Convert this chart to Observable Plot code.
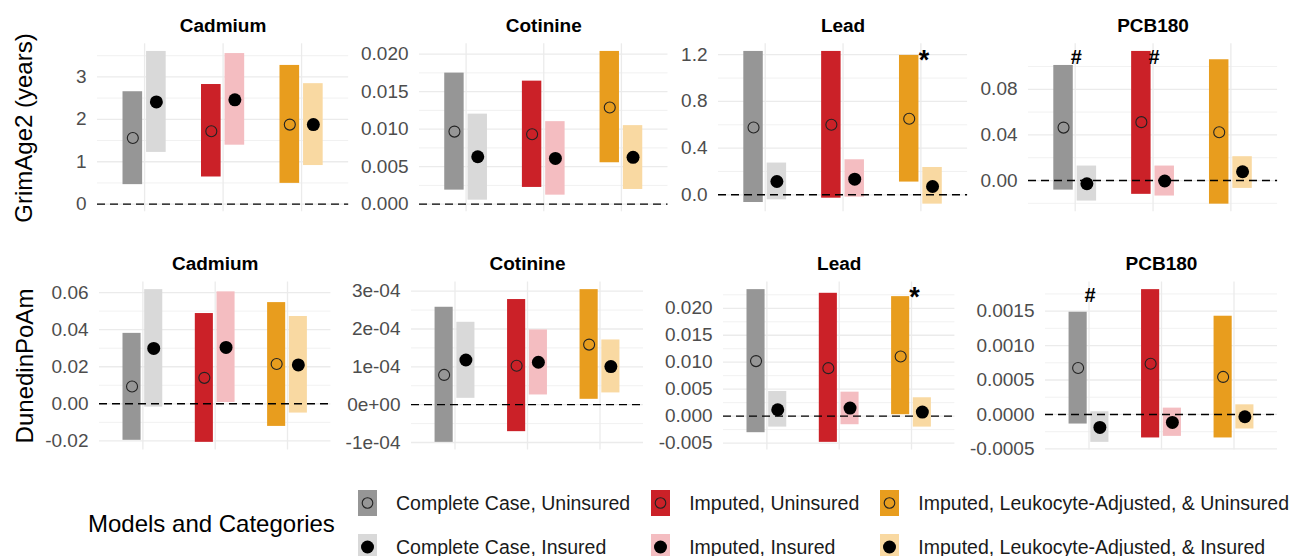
<!DOCTYPE html>
<html>
<head>
<meta charset="utf-8">
<script src="https://cdn.jsdelivr.net/npm/d3@7"></script>
<script src="https://cdn.jsdelivr.net/npm/@observablehq/plot@0.6"></script>
<style>
  body { margin: 0; background: #fff; font-family: "Liberation Sans", Arial, Helvetica, sans-serif; }
  #chart { position: relative; width: 1289px; height: 556px; overflow: hidden; background: #fff; }
  .panel { position: absolute; }
  .panel svg { overflow: visible; }
  .ytitle { position: absolute; font-size: 24px; color: #000; white-space: nowrap;
            transform: translate(-50%, -50%) rotate(-90deg); }
  .legtitle { position: absolute; font-size: 24px; color: #000; white-space: nowrap; transform: translateY(-50%); }
  .legend { position: absolute; display: flex; gap: 21px; }
  .legcol { display: flex; flex-direction: column; gap: 18px; }
  .legrow { display: flex; align-items: center; height: 26px; }
  .legkey { width: 19px; height: 26px; flex: none; }
  .legkey svg { display: block; }
  .legtext { margin-left: 19px; font-size: 19.5px; color: #1a1a1a; white-space: nowrap; }
</style>
</head>
<body>
<div id="chart"></div>
<script>
// ---------- data ----------
const outcomes = ["GrimAge2 (years)", "DunedinPoAm"];
const exposures = ["Cadmium", "Cotinine", "Lead", "PCB180"];
const models = ["Complete Case", "Imputed", "Imputed, Leukocyte-Adjusted"];
const categories = ["Uninsured", "Insured"];
const seriesLabels = [
  "Complete Case, Uninsured", "Complete Case, Insured",
  "Imputed, Uninsured", "Imputed, Insured",
  "Imputed, Leukocyte-Adjusted, & Uninsured", "Imputed, Leukocyte-Adjusted, & Insured"
];
const legendTitle = "Models and Categories";

// order of each row: CC-Uninsured, CC-Insured, Imp-Uninsured, Imp-Insured, LA-Uninsured, LA-Insured
const grimEstimate = [
  [1.56, 2.41, 1.72, 2.46, 1.875, 1.875],
  [0.00967, 0.00632, 0.00932, 0.0061, 0.01288, 0.00624],
  [0.577, 0.114, 0.60, 0.134, 0.651, 0.071],
  [0.0464, -0.0028, 0.0512, -0.0004, 0.0424, 0.0077]
];
const grimLower = [
  [0.46, 1.22, 0.64, 1.39, 0.49, 0.91],
  [0.00187, 0.00053, 0.00223, 0.0012, 0.00552, 0.00196],
  [-0.066, -0.043, -0.029, -0.02, 0.109, -0.08],
  [-0.0084, -0.018, -0.0121, -0.0136, -0.0207, -0.0069]
];
const grimUpper = [
  [2.65, 3.60, 2.82, 3.55, 3.27, 2.84],
  [0.01747, 0.0120, 0.0164, 0.0110, 0.02036, 0.01047],
  [1.228, 0.272, 1.228, 0.30, 1.194, 0.234],
  [0.1009, 0.0127, 0.1132, 0.0127, 0.1059, 0.0209]
];
const dunedinEstimate = [
  [0.0093, 0.0299, 0.014, 0.0304, 0.0215, 0.0210],
  [0.786e-4, 1.18e-4, 1.03e-4, 1.12e-4, 1.587e-4, 1.005e-4],
  [0.0102, 0.00118, 0.00889, 0.00148, 0.01105, 0.00074],
  [0.000675, -0.000188, 0.000737, -0.000116, 0.000545, -0.000033]
];
const dunedinLower = [
  [-0.0197, -0.0018, -0.0208, 0.0007, -0.0122, -0.0050],
  [-0.997e-4, 0.167e-4, -0.714e-4, 0.256e-4, 0.141e-4, 0.31e-4],
  [-0.00308, -0.00204, -0.00487, -0.0016, 0.00026, -0.00204],
  [-0.000139, -0.000405, -0.000341, -0.000318, -0.000341, -0.000211]
];
const dunedinUpper = [
  [0.0380, 0.0616, 0.0487, 0.0604, 0.0546, 0.0471],
  [2.574e-4, 2.177e-4, 2.778e-4, 1.975e-4, 3.04e-4, 1.71e-4],
  [0.02346, 0.00457, 0.02278, 0.00444, 0.02216, 0.0034],
  [0.001484, 0.000039, 0.001812, 0.000092, 0.001426, 0.00014]
];
const grimTickLabels = [
  ["0", "1", "2", "3"],
  ["0.000", "0.005", "0.010", "0.015", "0.020"],
  ["0.0", "0.4", "0.8", "1.2"],
  ["0.00", "0.04", "0.08"]
];
const dunedinTickLabels = [
  ["-0.02", "0.00", "0.02", "0.04", "0.06"],
  ["-1e-04", "0e+00", "1e-04", "2e-04", "3e-04"],
  ["-0.005", "0.000", "0.005", "0.010", "0.015", "0.020"],
  ["-0.0005", "0.0000", "0.0005", "0.0010", "0.0015"]
];
const significanceMarks = [
  ["GrimAge2 (years)", "Lead", "Imputed, Leukocyte-Adjusted", "*"],
  ["GrimAge2 (years)", "PCB180", "Complete Case", "#"],
  ["GrimAge2 (years)", "PCB180", "Imputed", "#"],
  ["DunedinPoAm", "Lead", "Imputed, Leukocyte-Adjusted", "*"],
  ["DunedinPoAm", "PCB180", "Complete Case", "#"]
];

// ---------- styling / layout ----------
const seriesColors = ["#969696", "#d9d9d9", "#cb2128", "#f4bdc1", "#e89d1e", "#f9d9a2"];
const estimates = [grimEstimate, dunedinEstimate];
const lowers = [grimLower, dunedinLower];
const uppers = [grimUpper, dunedinUpper];
const tickLabelSets = [grimTickLabels, dunedinTickLabels];
const rowLayout = [
  { top: 0, plotTop: 43.3, lefts: [96.9, 419.1, 718.3, 1028.3], widths: [251.2, 248.5, 249.1, 249.1] },
  { top: 240, plotTop: 281.5, lefts: [99.3, 410.8, 722.6, 1044.8], widths: [231.4, 232, 231.4, 232] }
];
const plotHeight = 168;
const mL = 90, mR = 8, mB = 10;

const chart = document.getElementById("chart");

function makePanel(o, e) {
  const est = estimates[o][e], lo = lowers[o][e], hi = uppers[o][e];
  const rows = est.map((v, s) => ({
    s, model: Math.floor(s / 2), cat: s % 2, est: v, lo: lo[s], hi: hi[s], label: seriesLabels[s]
  }));
  const ymin = Math.min(0, d3.min(lo)), ymax = Math.max(0, d3.max(hi));
  const pad = (ymax - ymin) * 0.05;
  const domain = [ymin - pad, ymax + pad];
  const labels = tickLabelSets[o][e];
  const ticks = labels.map(Number);
  const labelOf = new Map(ticks.map((t, i) => [t, labels[i]]));
  const step = ticks[1] - ticks[0];
  const minor = [ticks[0] - step / 2, ...ticks.map(t => t + step / 2)]
    .filter(v => v >= domain[0] && v <= domain[1]);
  const center = d => d.model + 1 + (d.cat === 0 ? -0.15 : 0.15);
  const marks = significanceMarks
    .filter(m => m[0] === outcomes[o] && m[1] === exposures[e])
    .map(m => ({ x: models.indexOf(m[2]) + 1, y: 0.9 * d3.max(hi), sym: m[3] }));
  const stars = marks.filter(m => m.sym === "*");
  const hashes = marks.filter(m => m.sym !== "*");

  const L = rowLayout[o];
  const mT = L.plotTop - L.top;
  const w = L.widths[e];
  const plot = Plot.plot({
    width: w + mL + mR,
    height: mT + plotHeight + mB,
    marginLeft: mL, marginRight: mR, marginTop: mT, marginBottom: mB,
    x: { domain: [0.4, 3.6], axis: null },
    y: { domain, axis: null, label: null },
    color: { domain: seriesLabels, range: seriesColors },
    style: { fontFamily: '"Liberation Sans", Arial, Helvetica, sans-serif', fontSize: "19px",
             color: "#4d4d4d", background: "transparent", overflow: "visible" },
    marks: [
      Plot.ruleY(minor, { stroke: "#ebebeb", strokeWidth: 0.7 }),
      Plot.ruleY(ticks, { stroke: "#ebebeb", strokeWidth: 1.3 }),
      Plot.ruleX([1, 2, 3], { stroke: "#ebebeb", strokeWidth: 1.3 }),
      Plot.axisY({ ticks, tickFormat: d => labelOf.get(d), tickSize: 0, tickPadding: 11,
                   fontSize: 19, label: null }),
      Plot.rect(rows, { x1: d => center(d) - 0.125, x2: d => center(d) + 0.125,
                        y1: "lo", y2: "hi", fill: "label" }),
      Plot.ruleY([0], { stroke: "#000", strokeDasharray: "8,5", strokeWidth: 1.4 }),
      Plot.dot(rows.filter(d => d.cat === 0), { x: center, y: "est", r: 5.5, fill: "none",
                                                stroke: "#222", strokeWidth: 1.1 }),
      Plot.dot(rows.filter(d => d.cat === 1), { x: center, y: "est", r: 6.5, fill: "#000" }),
      Plot.text(hashes, { x: "x", y: "y", text: "sym", lineAnchor: "bottom", dx: 1,
                          fontWeight: "bold", fontSize: 20, fill: "#000" }),
      Plot.text(stars, { x: "x", y: "y", text: "sym", lineAnchor: "bottom", dx: 3, dy: 3.5,
                         fontWeight: "bold", fontSize: 27, fill: "#000" }),
      Plot.text([exposures[e]], { frameAnchor: "top", lineAnchor: "middle", dy: -18,
                                  fontWeight: "bold", fontSize: 19, fill: "#000" })
    ]
  });
  const div = document.createElement("div");
  div.className = "panel";
  div.style.left = (L.lefts[e] - mL) + "px";
  div.style.top = L.top + "px";
  div.appendChild(plot);
  chart.appendChild(div);
}

outcomes.forEach((_, o) => exposures.forEach((_, e) => makePanel(o, e)));

// y-axis titles
[[outcomes[0], 24, 127.5], [outcomes[1], 24.5, 365.5]].forEach(([t, x, y]) => {
  const d = document.createElement("div");
  d.className = "ytitle";
  d.textContent = t;
  d.style.left = x + "px";
  d.style.top = y + "px";
  chart.appendChild(d);
});

// legend
const lt = document.createElement("div");
lt.className = "legtitle";
lt.textContent = legendTitle;
lt.style.left = "88px";
lt.style.top = "524px";
chart.appendChild(lt);

const leg = document.createElement("div");
leg.className = "legend";
leg.style.left = "358px";
leg.style.top = "490px";
models.forEach((m, mi) => {
  const col = document.createElement("div");
  col.className = "legcol";
  categories.forEach((c, ci) => {
    const s = mi * 2 + ci;
    const row = document.createElement("div");
    row.className = "legrow";
    const key = document.createElement("div");
    key.className = "legkey";
    key.style.background = seriesColors[s];
    key.innerHTML = ci === 0
      ? '<svg width="19" height="26"><circle cx="9.5" cy="13" r="5.3" fill="none" stroke="#222" stroke-width="1.1"/></svg>'
      : '<svg width="19" height="26"><circle cx="9.5" cy="13" r="6.5" fill="#000"/></svg>';
    const txt = document.createElement("span");
    txt.className = "legtext";
    txt.textContent = seriesLabels[s];
    row.appendChild(key);
    row.appendChild(txt);
    col.appendChild(row);
  });
  leg.appendChild(col);
});
chart.appendChild(leg);
</script>
</body>
</html>
